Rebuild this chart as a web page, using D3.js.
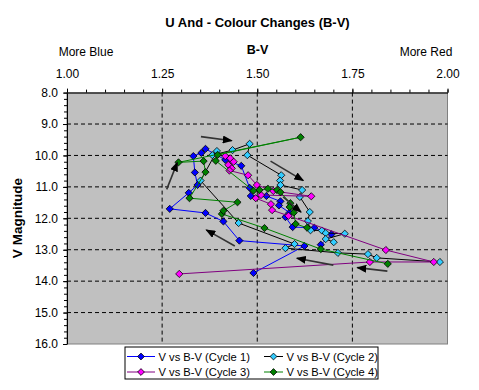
<!DOCTYPE html>
<html>
<head>
<meta charset="utf-8">
<script src="https://cdn.jsdelivr.net/npm/d3@7"></script>
<style>
body { margin: 0; background: #fff; }
svg { display: block; font-family: Arial, "Liberation Sans", sans-serif; }
</style>
</head>
<body>
<svg width="479" height="390"></svg>
<script>
// B-V colour index vs V magnitude, one list per cycle: [B-V, V]
var cycle1 = [[1.490,13.74],[1.624,12.88],[1.453,12.71],[1.411,12.10],[1.364,11.83],[1.270,11.70],
	[1.320,11.19],[1.343,10.94],[1.336,10.54],[1.332,10.02],[1.353,9.92],[1.364,9.79],[1.416,10.14],
	[1.458,10.33],[1.480,11.03],[1.483,11.29],[1.524,11.29],[1.561,11.46],[1.557,11.59],[1.585,11.82],
	[1.574,11.96],[1.593,12.28],[1.650,12.30],[1.695,12.51],[1.667,12.84]];
var cycle2 = [[1.980,13.39],[1.814,13.26],[1.791,13.14],[1.712,13.10],[1.574,12.95],[1.598,12.82],
	[1.451,12.15],[1.351,10.80],[1.394,9.86],[1.382,9.99],[1.435,9.83],[1.480,9.63],[1.474,9.99],
	[1.563,10.63],[1.560,10.80],[1.561,10.94],[1.618,11.10],[1.612,11.32],[1.638,11.80],[1.633,12.09],
	[1.640,12.38],[1.670,12.39],[1.680,12.47],[1.730,12.49],[1.680,12.66],[1.701,12.76]];
var cycle3 = [[1.416,10.02],[1.429,10.09],[1.438,10.20],[1.424,10.30],[1.433,10.41],[1.427,10.48],
	[1.476,10.63],[1.499,10.94],[1.542,11.13],[1.642,11.30],[1.510,11.26],[1.496,11.36],[1.536,11.55],
	[1.539,11.74],[1.582,11.92],[1.838,13.01],[1.964,13.39],[1.796,13.39],[1.295,13.77]];
var cycle4 = [[1.843,13.45],[1.667,12.98],[1.519,12.31],[1.407,11.86],[1.411,11.76],[1.448,11.49],
	[1.322,11.36],[1.364,10.53],[1.359,10.18],[1.293,10.22],[1.614,9.42],[1.396,9.98],[1.391,10.17],
	[1.490,11.12],[1.506,11.10],[1.528,11.06],[1.552,11.10],[1.561,11.17],[1.587,11.52],[1.585,11.64],
	[1.596,11.82],[1.601,12.18],[1.631,12.30]];

// drawn arrows showing direction of travel: [from, to]
var arrows = [[[1.352,9.40],[1.433,9.53]], [[1.535,10.18],[1.621,10.80]], [[1.568,11.32],[1.615,11.80]],
	[[1.441,12.88],[1.366,12.37]], [[1.700,13.49],[1.604,13.27]], [[1.842,13.68],[1.763,13.57]],
	[[1.262,11.08],[1.290,10.22]]];

var seriesNames = ['V vs B-V (Cycle 1)', 'V vs B-V (Cycle 2)', 'V vs B-V (Cycle 3)', 'V vs B-V (Cycle 4)'];
var xTicks = [1.00, 1.25, 1.50, 1.75, 2.00];
var yTicks = [8, 9, 10, 11, 12, 13, 14, 15, 16];

var series = [cycle1, cycle2, cycle3, cycle4];
var lineColors = ['#0000ff', '#000000', '#800080', '#008000'];
var markColors = ['#0000ff', '#33ccff', '#ff00ff', '#008000'];

var plotL = 67, plotR = 447.5, plotT = 92.6, plotB = 344;
var svg = d3.select('svg');

var x = d3.scaleLinear().domain([1, 2]).range([plotL, plotR]);
var y = d3.scaleLinear().domain([8, 16]).range([plotT, plotB]);

function diamond(r) {
	return 'M0,' + (-r) + 'L' + r + ',0L0,' + r + 'L' + (-r) + ',0Z';
}

// plot area
svg.append('rect')
	.attr('x', plotL).attr('y', plotT)
	.attr('width', plotR - plotL).attr('height', plotB - plotT)
	.attr('fill', '#c0c0c0')
	.attr('stroke', '#808080');

// grid
svg.append('g').selectAll('line')
	.data(xTicks.slice(1, -1)).enter().append('line')
	.attr('x1', function(d){ return x(d); }).attr('x2', function(d){ return x(d); })
	.attr('y1', plotT).attr('y2', plotB)
	.attr('stroke', '#000').attr('stroke-dasharray', '4,3');
svg.append('g').selectAll('line')
	.data(yTicks.slice(1, -1)).enter().append('line')
	.attr('y1', function(d){ return y(d); }).attr('y2', function(d){ return y(d); })
	.attr('x1', plotL).attr('x2', plotR)
	.attr('stroke', '#000').attr('stroke-dasharray', '4,3');

// axes: minor ticks, then major ticks with labels
svg.append('g')
	.attr('transform', 'translate(0,' + plotT + ')')
	.call(d3.axisTop(x).tickValues(d3.range(1, 2.001, 0.05)).tickSize(3).tickFormat(''))
	.call(function(g){ g.select('.domain').remove(); });
svg.append('g')
	.attr('transform', 'translate(0,' + plotT + ')')
	.call(d3.axisTop(x).tickValues(xTicks).tickSize(4).tickSizeOuter(0).tickPadding(11).tickFormat(d3.format('.2f')));
svg.append('g')
	.attr('transform', 'translate(' + plotL + ',0)')
	.call(d3.axisLeft(y).tickValues(d3.range(8, 16.001, 0.2)).tickSize(3).tickFormat(''))
	.call(function(g){ g.select('.domain').remove(); });
svg.append('g')
	.attr('transform', 'translate(' + plotL + ',0)')
	.call(d3.axisLeft(y).tickValues(yTicks).tickSize(4).tickSizeOuter(0).tickPadding(5).tickFormat(d3.format('.1f')));

svg.selectAll('.tick text').attr('font-size', 12).attr('font-family', 'Arial, "Liberation Sans", sans-serif').attr('fill', '#000');
svg.selectAll('.domain').attr('stroke', '#000');
svg.selectAll('.tick line').attr('stroke', '#000');

// series
var line = d3.line().x(function(d){ return x(d[0]); }).y(function(d){ return y(d[1]); });
series.forEach(function(s, i) {
	var g = svg.append('g');
	g.append('path')
		.attr('d', line(s))
		.attr('fill', 'none')
		.attr('stroke', lineColors[i])
		.attr('stroke-width', 1);
	g.selectAll('path.pt')
		.data(s).enter().append('path')
		.attr('class', 'pt')
		.attr('d', diamond(3.6))
		.attr('transform', function(d){ return 'translate(' + x(d[0]) + ',' + y(d[1]) + ')'; })
		.attr('fill', markColors[i])
		.attr('stroke', '#000')
		.attr('stroke-width', 0.8);
});

// arrows
svg.append('defs').append('marker')
	.attr('id', 'head')
	.attr('viewBox', '0 0 10 8')
	.attr('refX', 9).attr('refY', 4)
	.attr('markerWidth', 10).attr('markerHeight', 8)
	.attr('markerUnits', 'userSpaceOnUse')
	.attr('orient', 'auto')
	.append('path').attr('d', 'M0,0L10,4L0,8Z').attr('fill', '#000');
svg.append('g').selectAll('line')
	.data(arrows).enter().append('line')
	.attr('x1', function(d){ return x(d[0][0]); }).attr('y1', function(d){ return y(d[0][1]); })
	.attr('x2', function(d){ return x(d[1][0]); }).attr('y2', function(d){ return y(d[1][1]); })
	.attr('stroke', '#333').attr('stroke-width', 1.6)
	.attr('marker-end', 'url(#head)');

// titles
svg.append('text')
	.attr('x', 257.5).attr('y', 27)
	.attr('text-anchor', 'middle')
	.attr('font-size', 13).attr('font-weight', 'bold')
	.text('U And - Colour Changes (B-V)');
svg.append('text')
	.attr('x', 257.5).attr('y', 54)
	.attr('text-anchor', 'middle')
	.attr('font-size', 12.5).attr('font-weight', 'bold')
	.text('B-V');
svg.append('text')
	.attr('x', 86).attr('y', 56)
	.attr('text-anchor', 'middle')
	.attr('font-size', 12)
	.text('More Blue');
svg.append('text')
	.attr('x', 426).attr('y', 56)
	.attr('text-anchor', 'middle')
	.attr('font-size', 12)
	.text('More Red');
svg.append('text')
	.attr('transform', 'translate(22,218) rotate(-90)')
	.attr('text-anchor', 'middle')
	.attr('font-size', 13.5).attr('font-weight', 'bold')
	.text('V Magnitude');

// legend
var legend = svg.append('g').attr('transform', 'translate(125,347)');
legend.append('rect')
	.attr('width', 253).attr('height', 32)
	.attr('fill', '#fff').attr('stroke', '#000');
var item = legend.selectAll('g.item')
	.data(seriesNames).enter().append('g')
	.attr('class', 'item')
	.attr('transform', function(d, i){ return 'translate(' + (i % 2 ? 139 : 2) + ',' + (i < 2 ? 9.5 : 25) + ')'; });
item.append('line')
	.attr('x1', 0).attr('x2', function(d, i){ return i % 2 ? 19 : 28; })
	.attr('stroke', function(d, i){ return lineColors[i]; });
item.append('path')
	.attr('d', diamond(3.4))
	.attr('transform', function(d, i){ return 'translate(' + (i % 2 ? 9.5 : 14) + ',0)'; })
	.attr('fill', function(d, i){ return markColors[i]; })
	.attr('stroke', '#000').attr('stroke-width', 0.8);
item.append('text')
	.attr('x', function(d, i){ return i % 2 ? 22.5 : 31.5; }).attr('y', 4)
	.attr('font-size', 11.2)
	.text(function(d){ return d; });
</script>
</body>
</html>
